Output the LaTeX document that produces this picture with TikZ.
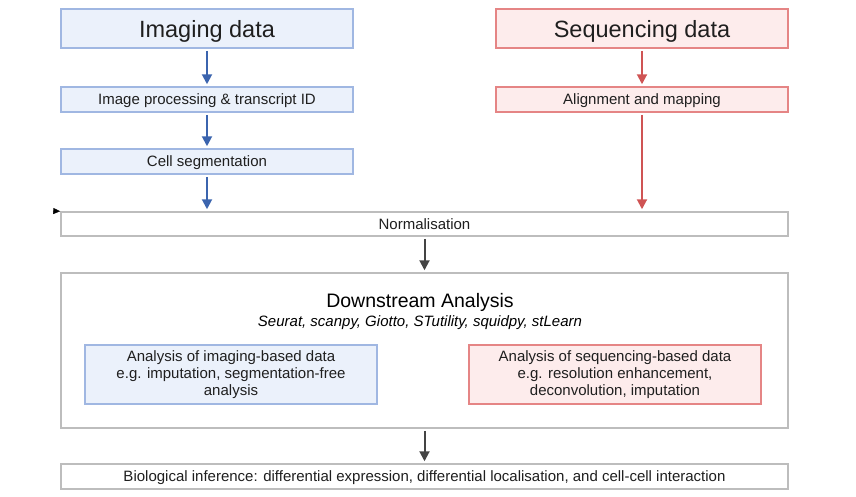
\documentclass[tikz,border=0pt]{standalone}
\usepackage{fontspec}
\setmainfont{Liberation Sans}
\usetikzlibrary{arrows.meta}
\definecolor{bluefill}{HTML}{EBF1FB}
\definecolor{blueline}{HTML}{A0B7E2}
\definecolor{bluearrow}{HTML}{3B64AE}
\definecolor{redfill}{HTML}{FDECEC}
\definecolor{redline}{HTML}{E58585}
\definecolor{redarrow}{HTML}{CF5454}
\definecolor{greyline}{HTML}{BDBDBD}
\definecolor{darkarrow}{HTML}{444444}
\tikzset{
  box/.style={draw, line width=1.5pt, minimum width=292pt, inner sep=0pt, align=center, text=black!88},
  imgbox/.style={box, draw=blueline, fill=bluefill},
  seqbox/.style={box, draw=redline, fill=redfill},
  widebox/.style={box, draw=greyline, fill=white, minimum width=727pt},
  oneline/.style={text depth=0pt},
  flow/.style={line width=2pt, shorten <=2pt, shorten >=2pt, -{Triangle[width=10pt,length=10pt]}},
  big/.style={font=\fontsize{23.5}{27}\selectfont},
}

\begin{document}
\begin{tikzpicture}[x=1pt,y=-1pt,font=\fontsize{15}{17}\selectfont]
\useasboundingbox (0,0) rectangle (856,496);
% imaging side
\node[imgbox, big, oneline, minimum height=39pt] (img) at (207,28.5) {Imaging data};
\node[imgbox, oneline, minimum height=25pt] (proc) at (207,99.5) {Image processing \& transcript ID};
\node[imgbox, oneline, minimum height=25pt] (seg) at (207,161.5) {Cell segmentation};
% sequencing side
\node[seqbox, big, oneline, minimum height=39pt] (seq) at (642,28.5) {Sequencing data};
\node[seqbox, oneline, minimum height=25pt] (align) at (642,99.5) {Alignment and mapping};
% common steps
\node[widebox, oneline, minimum height=24pt] (norm) at (424.5,224) {Normalisation};
\node[widebox, minimum height=155pt] (down) at (424.5,350.5) {};
\node[oneline, font=\fontsize{19.5}{22}\selectfont] (title) at (420,300) {Downstream Analysis};
\node[oneline] (tools) at (420,321) {\itshape Seurat, scanpy, Giotto, STutility, squidpy, stLearn};
\node[imgbox, minimum height=59pt] (aimg) at (231,374.5) {Analysis of imaging-based data\\e.g. imputation, segmentation-free\\analysis};
\node[seqbox, minimum height=59pt] (aseq) at (615,374.5) {Analysis of sequencing-based data\\e.g. resolution enhancement,\\deconvolution, imputation};
\node[widebox, oneline, minimum height=25pt] (bio) at (424.5,476.5) {Biological inference: differential expression, differential localisation, and cell-cell interaction};

\draw[flow, bluearrow] (img) -- (proc);
\draw[flow, bluearrow] (proc) -- (seg);
\draw[flow, bluearrow] (seg) -- (seg.south |- norm.north);
\draw[flow, redarrow] (seq) -- (align);
\draw[flow, redarrow] (align) -- (align.south |- norm.north);
\draw[flow, darkarrow] (norm) -- (down);
\draw[flow, darkarrow] (down) -- (bio);
\coordinate (mark) at (53,211);
\draw[-{Triangle[width=6pt,length=7pt]}] (mark) -- (norm.north west);
\end{tikzpicture}
\end{document}
